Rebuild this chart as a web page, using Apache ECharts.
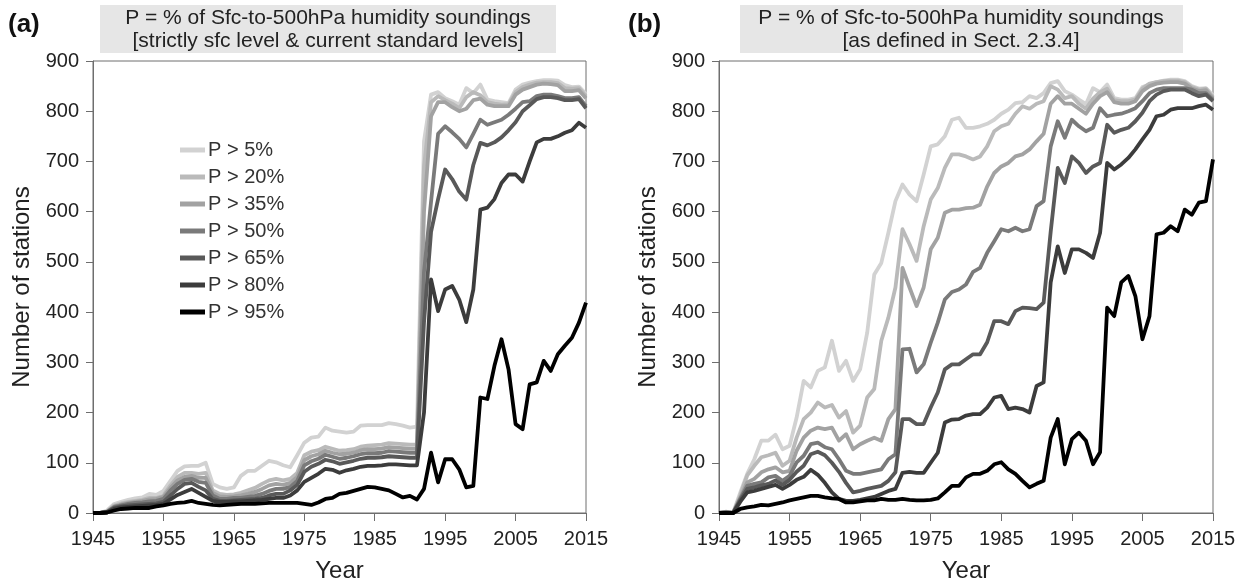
<!DOCTYPE html>
<html><head><meta charset="utf-8">
<script src="https://cdn.jsdelivr.net/npm/echarts@6/dist/echarts.min.js"></script>
<style>html,body{margin:0;padding:0;background:#fff}#c{width:1247px;height:588px}</style>
</head><body><div id="c"></div>
<script>
const years = [1945,1946,1947,1948,1949,1950,1951,1952,1953,1954,1955,1956,1957,1958,1959,1960,1961,1962,1963,1964,1965,1966,1967,1968,1969,1970,1971,1972,1973,1974,1975,1976,1977,1978,1979,1980,1981,1982,1983,1984,1985,1986,1987,1988,1989,1990,1991,1992,1993,1994,1995,1996,1997,1998,1999,2000,2001,2002,2003,2004,2005,2006,2007,2008,2009,2010,2011,2012,2013,2014,2015];
const xTicks = [1945,1955,1965,1975,1985,1995,2005,2015];
const seriesNames = ['P > 5%','P > 20%','P > 35%','P > 50%','P > 65%','P > 80%','P > 95%'];
const lineColors = ['#d2d2d2','#bababa','#a2a2a2','#7a7a7a','#595959','#3c3c3c','#000000'];

// Panel (a): strictly sfc level & current standard levels
const a5  = [0,0,5,18,22,26,29,31,38,36, 44,64,84,93,94,94,100,58,51,48, 51,74,84,84,94,104,101,95,91,115, 140,150,152,170,164,162,160,162,174,175, 175,175,179,177,174,170,172,
  740,833,838,826,820,813,846,836,853,823,820,818,816,843,853,857,860,862,862,861,852,848,849,834];
const a20 = [0,0,3,15,19,22,24,26,30,30, 35,55,72,80,80,78,80,45,38,36, 37,40,45,50,58,65,68,65,68,80, 115,122,125,132,128,124,125,127,132,134, 135,136,139,138,137,136,136,
  690,818,830,822,815,806,828,838,832,818,815,813,814,838,848,853,857,858,858,856,846,845,846,830];
const a35 = [0,0,3,13,17,20,22,24,27,28, 32,50,65,72,74,70,70,40,33,32, 33,35,38,42,48,55,58,56,60,72, 105,113,117,124,120,117,118,120,125,127, 127,128,131,130,129,128,128,
  600,790,818,818,808,800,805,822,825,813,810,810,810,833,843,848,853,855,854,852,840,840,842,826];
const a50 = [0,0,2,12,15,18,20,21,23,24, 28,45,58,66,68,62,60,35,28,28, 30,30,32,34,38,44,48,48,52,64, 95,103,108,116,112,108,110,113,117,119, 119,120,123,122,121,120,120,
  480,620,755,770,758,745,728,755,783,773,778,783,793,805,818,820,830,833,833,830,826,826,828,810];
const a65 = [0,0,2,10,13,15,16,17,18,19, 22,35,48,58,60,52,45,28,24,24, 25,26,27,28,30,35,38,38,45,56, 82,92,98,106,103,98,101,104,108,110, 110,111,113,112,111,110,110,
  380,560,625,684,665,640,624,693,737,732,738,748,762,778,800,812,824,828,828,826,822,822,824,806];
const a80 = [0,0,1,8,11,12,13,14,15,16, 18,27,36,42,48,40,32,24,22,22, 23,23,24,25,26,28,30,30,35,45, 62,70,78,88,86,80,85,88,92,94, 94,95,97,97,96,95,95,
  200,465,402,445,452,425,380,445,604,608,625,657,674,674,660,700,738,745,745,750,757,762,777,767];
const a95 = [0,0,1,5,8,9,10,10,10,13, 15,18,20,21,24,20,18,16,15,16, 17,18,18,18,19,20,20,20,20,20, 18,16,21,28,30,38,40,44,48,52, 51,48,45,38,31,34,27,
  48,120,61,107,107,87,51,54,230,227,293,346,286,177,167,256,260,303,283,316,333,349,379,419];

// Panel (b): as defined in Sect. 2.3.4
const b5  = [0,3,0,40,78,107,144,144,156,127, 134,190,263,250,283,290,343,283,303,263, 286,359,475,498,558,621,654,634,621,674, 730,734,750,783,787,767,
  767,770,775,783,795,803,816,818,830,826,836,
  856,860,840,833,823,814,846,838,853,826,823,823,826,848,853,858,861,863,863,860,850,845,846,832];
const b20 = [0,2,0,35,75,94,111,115,120,94, 104,150,187,200,220,210,215,190,203,160, 174,230,247,343,389,449,565,535,502,571, 624,647,687,714,714,710,
  704,710,730,760,770,775,795,810,805,815,820,
  850,843,826,830,815,805,825,838,845,822,820,820,823,845,855,858,860,861,861,858,848,843,845,828];
const b35 = [0,1,0,30,61,68,81,87,91,81, 84,124,150,164,170,167,170,144,157,127, 137,144,150,144,187,207,488,449,412,449, 525,548,598,604,604,607,
  608,614,650,677,690,697,710,714,724,740,755,
  815,830,815,815,805,795,815,830,838,818,815,815,820,840,850,855,857,858,858,855,845,840,842,826];
const b50 = [0,1,0,28,54,58,61,71,74,64, 74,101,114,137,140,131,127,107,84,78, 78,81,84,87,107,117,326,327,280,296, 339,379,425,440,445,455,
  480,488,518,541,565,561,568,561,565,611,621,
  730,780,747,783,770,760,767,806,790,793,795,800,806,820,836,843,846,846,846,846,843,836,836,823];
const b65 = [0,1,0,25,48,51,55,58,65,56, 66,82,94,117,122,115,100,82,60,41, 44,48,51,54,64,81,187,187,177,177, 210,240,286,296,296,306,
  316,316,340,382,382,376,402,409,408,406,419,
  560,687,657,710,697,677,690,697,773,757,763,767,780,797,820,833,840,843,843,843,836,830,833,820];
const b80 = [0,0,0,22,41,44,48,52,56,48, 56,66,72,86,76,60,41,28,24,24, 26,29,32,38,44,48,80,82,80,80, 100,120,180,186,187,194,
  197,197,210,230,233,207,210,207,200,253,260,
  459,531,478,525,525,518,508,558,697,684,694,707,724,744,763,790,793,803,806,806,806,810,813,803];
const b95 = [0,0,0,8,11,13,16,15,18,21, 25,28,31,34,34,31,29,28,21,21, 23,25,25,28,26,26,28,26,25,25, 26,29,41,54,54,71,
  78,78,84,97,101,87,78,64,51,58,64,
  150,187,97,147,160,144,97,121,409,392,459,472,432,346,392,555,558,571,561,604,594,618,621,704];

const panelA = [a5,a20,a35,a50,a65,a80,a95];
const panelB = [b5,b20,b35,b50,b65,b80,b95];

const FONT = '"Liberation Sans", Arial, sans-serif';
const chart = echarts.init(document.getElementById('c'), null, {renderer:'canvas'});

function xAx(gi){
  return {type:'value', gridIndex:gi, min:1945, max:2015, interval:10,
    axisLine:{show:true, onZero:false, lineStyle:{color:'#6e6e6e', width:1}},
    axisTick:{show:true, length:8, lineStyle:{color:'#6e6e6e'}},
    axisLabel:{fontSize:20, color:'#222', margin:16, fontFamily:FONT,
      formatter: v => xTicks.indexOf(v) >= 0 ? String(v) : ''},
    splitLine:{show:false},
    name:'Year', nameLocation:'middle', nameGap:46,
    nameTextStyle:{fontSize:24, color:'#222', fontFamily:FONT}};
}
function yAx(gi){
  return {type:'value', gridIndex:gi, min:0, max:900, interval:100,
    axisLine:{show:true, lineStyle:{color:'#6e6e6e', width:1}},
    axisTick:{show:true, length:7, lineStyle:{color:'#6e6e6e'}},
    axisLabel:{fontSize:20, color:'#222', margin:14, fontFamily:FONT},
    splitLine:{show:false},
    name:'Number of stations', nameLocation:'middle', nameGap:59,
    nameTextStyle:{fontSize:24, color:'#222', fontFamily:FONT}};
}

const series = [];
[panelA, panelB].forEach((panel, gi) => {
  panel.forEach((vals, k) => {
    series.push({
      name: seriesNames[k], type:'line', xAxisIndex:gi, yAxisIndex:gi,
      data: years.map((y,i) => [y, vals[i]]),
      symbol:'none', showSymbol:false, smooth:false, animation:false,
      lineStyle:{width:3.8, color:lineColors[k], join:'round'},
      itemStyle:{color:lineColors[k]},
      z: 2
    });
  });
});

const option = {
  backgroundColor:'#fff',
  animation:false,
  grid:[
    {left:93, top:61, width:493, height:453, show:true, borderColor:'#6e6e6e', borderWidth:1, backgroundColor:'transparent'},
    {left:719, top:61, width:494, height:453, show:true, borderColor:'#6e6e6e', borderWidth:1, backgroundColor:'transparent'}
  ],
  xAxis:[xAx(0), xAx(1)],
  yAxis:[yAx(0), yAx(1)],
  legend:{
    data: seriesNames, orient:'vertical', left:180, top:140, padding:0,
    icon:'rect', itemWidth:25, itemHeight:5, itemGap:7, itemStyle:{borderWidth:0},
    textStyle:{fontSize:20, color:'#333', fontFamily:FONT, padding:[0,0,0,-2]}
  },
  graphic:[
    {type:'rect', shape:{x:100, y:5, width:456, height:48}, style:{fill:'#e6e6e6'}},
    {type:'rect', shape:{x:740, y:5, width:443, height:48}, style:{fill:'#e6e6e6'}},
    {type:'text', style:{text:'P = % of Sfc-to-500hPa humidity soundings\n[strictly sfc level & current standard levels]',
      x:328, y:30, textAlign:'center', textVerticalAlign:'middle', align:'center', verticalAlign:'middle',
      fontSize:21, fontFamily:FONT, fill:'#222', lineHeight:23}},
    {type:'text', style:{text:'P = % of Sfc-to-500hPa humidity soundings\n[as defined in Sect. 2.3.4]',
      x:961, y:30, textAlign:'center', textVerticalAlign:'middle', align:'center', verticalAlign:'middle',
      fontSize:21, fontFamily:FONT, fill:'#222', lineHeight:23}},
    {type:'text', style:{text:'(a)', x:8, y:25, textVerticalAlign:'middle', verticalAlign:'middle',
      fontSize:26, fontWeight:'bold', fontFamily:FONT, fill:'#111'}},
    {type:'text', style:{text:'(b)', x:628, y:25, textVerticalAlign:'middle', verticalAlign:'middle',
      fontSize:26, fontWeight:'bold', fontFamily:FONT, fill:'#111'}}
  ],
  series: series
};
chart.setOption(option);
</script>
</body></html>
